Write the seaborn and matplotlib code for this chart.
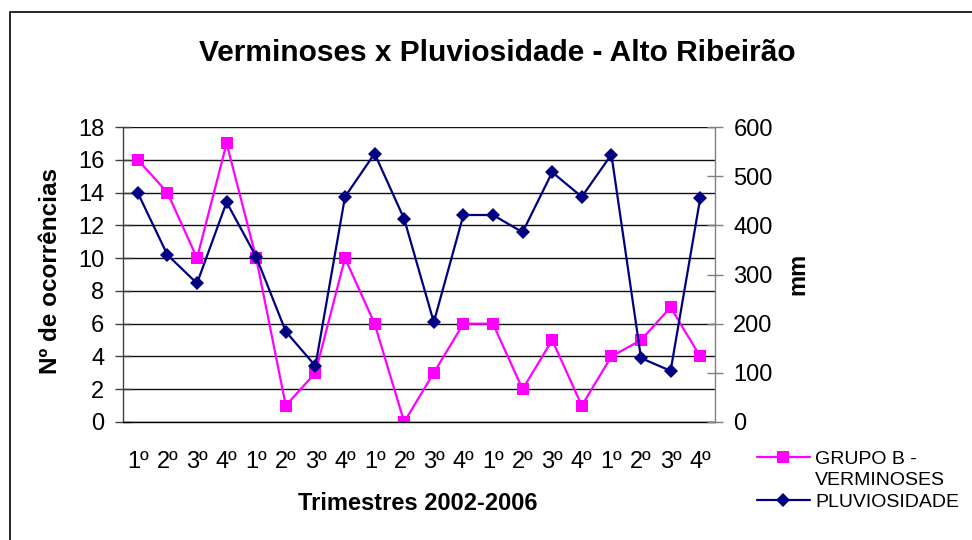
import matplotlib
matplotlib.use("Agg")
import matplotlib.pyplot as plt
from matplotlib.lines import Line2D
from matplotlib.patches import Rectangle
from matplotlib.ticker import MultipleLocator, FixedLocator
import seaborn as sns
import numpy as np

# Quarterly data, 2002-2006
quarters = ["1º", "2º", "3º", "4º"] * 5
verminoses = [16, 14, 10, 17, 10, 1, 3, 10, 6, 0, 3, 6, 6, 2, 5, 1, 4, 5, 7, 4]
pluviosidade = [466, 340, 282, 447, 336, 184, 114, 458, 546, 413,
                203, 421, 421, 386, 508, 458, 544, 130, 104, 455]

PINK = "#FF00FF"
NAVY = "#000080"

sns.set_style("white")
plt.rcParams["font.family"] = ["Liberation Sans", "DejaVu Sans"]
plt.rcParams["text.color"] = "black"
plt.rcParams["axes.labelcolor"] = "black"
plt.rcParams["xtick.color"] = "black"
plt.rcParams["ytick.color"] = "black"

W, H = 972, 540
fig = plt.figure(figsize=(W / 100, H / 100), dpi=100)

# plot area in pixels: x 123..715, y 127..422
L, R, T, B = 123, 715, 127, 422
ax = fig.add_axes([L / W, 1 - B / H, (R - L) / W, (B - T) / H])
ax2 = ax.twinx()

idx = np.arange(len(quarters))

sns.lineplot(x=idx, y=verminoses, ax=ax, color=PINK, lw=1.6, marker="s",
             markersize=9, markeredgewidth=0, markerfacecolor=PINK, legend=False)
sns.lineplot(x=idx, y=pluviosidade, ax=ax2, color=NAVY, lw=1.6, marker="D",
             markersize=6.8, markeredgewidth=0, markerfacecolor=NAVY, legend=False)

ax.set_xlim(-0.5, len(quarters) - 0.5)
ax.set_ylim(0, 18)
ax2.set_ylim(0, 600)
ax.yaxis.set_major_locator(MultipleLocator(2))
ax2.yaxis.set_major_locator(MultipleLocator(100))

# category labels centred, tick marks on category boundaries
ax.set_xticks(idx)
ax.set_xticklabels(quarters)
ax.xaxis.set_minor_locator(FixedLocator(np.arange(-0.5, len(quarters), 1.0)))
ax.tick_params(axis="x", which="major", length=0, pad=21, labelsize=17,
               labelcolor="black")
ax.tick_params(axis="x", which="minor", length=11.5, width=1, direction="inout",
               color="#404040")
ax.tick_params(axis="y", which="major", length=11.5, width=1, direction="inout",
               pad=7.6, labelsize=17, color="#404040", labelcolor="black")
ax2.tick_params(axis="y", which="major", length=11.5, width=1, direction="inout",
                pad=7.4, labelsize=17, color="#808080", labelcolor="black")
ax.set_xlabel("")
ax.set_ylabel("")
ax2.set_ylabel("")

ax.yaxis.grid(True, color="#111111", lw=1)
ax.set_axisbelow(True)
for s in ["top"]:
    ax.spines[s].set_visible(False)
    ax2.spines[s].set_visible(False)
ax2.spines["left"].set_visible(False)
ax2.spines["bottom"].set_visible(False)
ax.spines["right"].set_visible(False)
ax.spines["left"].set_color("#404040")
ax.spines["bottom"].set_color("black")
ax2.spines["right"].set_color("#808080")
for sp in list(ax.spines.values()) + list(ax2.spines.values()):
    sp.set_linewidth(1)

# titles
fig.text(497 / W, 1 - 53 / H, "Verminoses x Pluviosidade - Alto Ribeirão",
         ha="center", va="center", fontsize=21.5, fontweight="bold")
fig.text(51 / W, 1 - 271 / H, "Nº de ocorrências", rotation=90,
         ha="center", va="center", fontsize=17.5, fontweight="bold")
fig.text(798 / W, 1 - 274 / H, "mm", rotation=90,
         ha="center", va="center", fontsize=17, fontweight="bold")
fig.text(418 / W, 1 - 503 / H, "Trimestres 2002-2006",
         ha="center", va="center", fontsize=17, fontweight="bold")

# legend
handles = [
    Line2D([], [], color=PINK, lw=1.6, marker="s", markersize=9,
           markeredgewidth=0),
    Line2D([], [], color="none", lw=0),
    Line2D([], [], color=NAVY, lw=1.6, marker="D", markersize=6.8,
           markeredgewidth=0),
]
labels = ["GRUPO B -", "VERMINOSES", "PLUVIOSIDADE"]
fig.legend(handles, labels, loc="upper left",
           bbox_to_anchor=(757 / W, 1 - 450 / H), frameon=False,
           fontsize=14, handlelength=2.7, handletextpad=0.3,
           labelspacing=0.2, borderpad=0, borderaxespad=0)

# chart border
fig.add_artist(Rectangle((9.5 / W, -0.1), 1.2, 1.1 - 12 / H,
                         transform=fig.transFigure, fill=False,
                         lw=1.2, ec="black"))

fig.savefig("out.png", dpi=100)
